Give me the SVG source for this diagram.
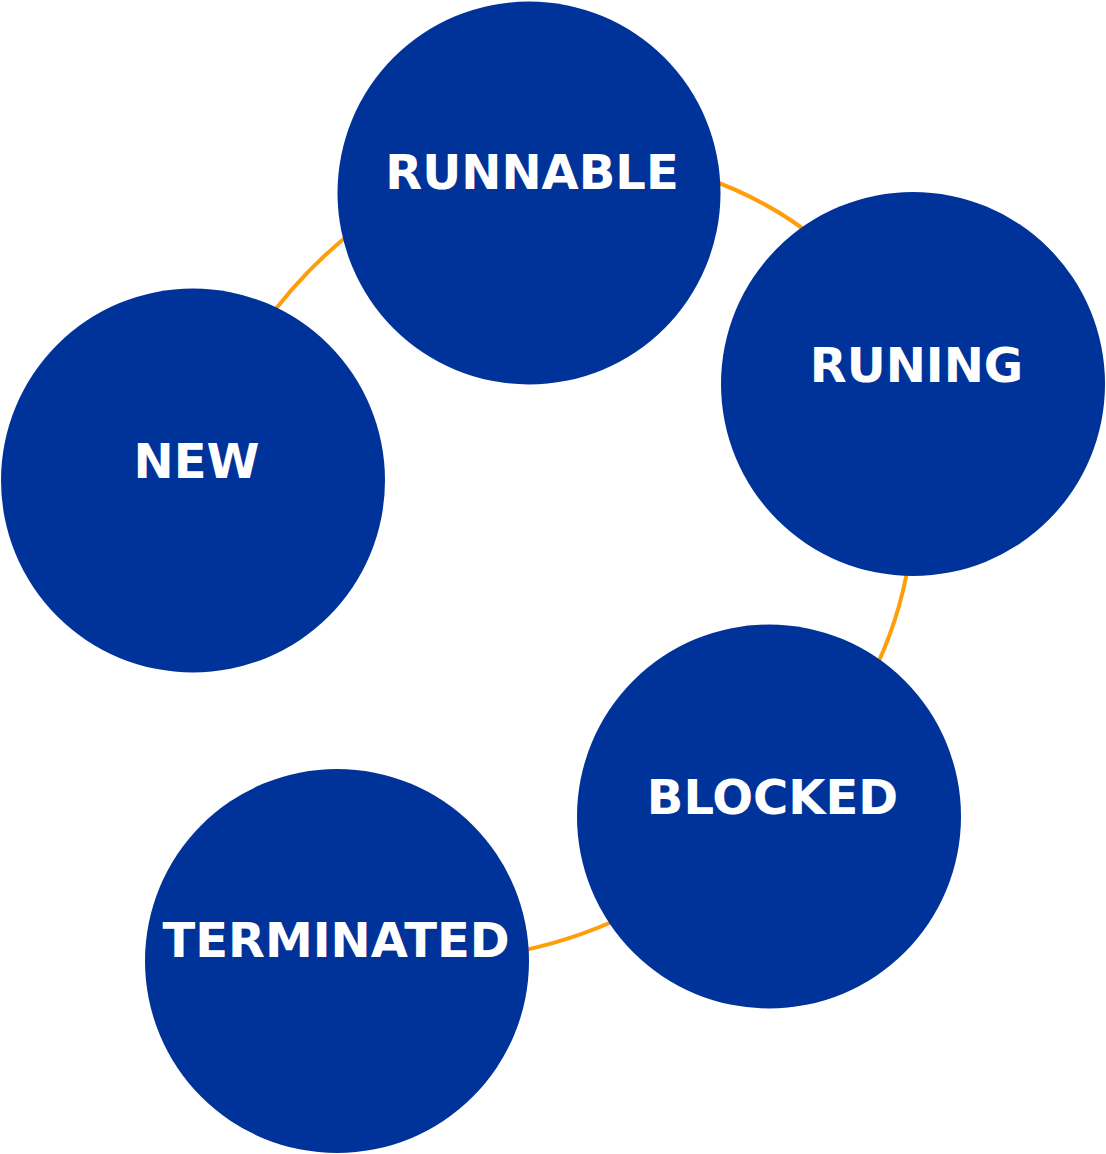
<svg xmlns="http://www.w3.org/2000/svg" width="1106" height="1154" viewBox="0 0 1106 1154">
<style>
.link{fill:none;stroke:#FF9E0B;stroke-width:4;stroke-linecap:round}
.node circle{fill:#003399}
.node text{fill:#FFFFFF;font-family:"DejaVu Sans","Verdana",sans-serif;font-weight:bold;font-size:48px;text-anchor:middle}
</style>
<rect width="1106" height="1154" fill="#FFFFFF"/>
<g id="connectors">
<path class="link" d="M260,330 Q304,268 360,226"/>
<path class="link" d="M700,176 Q770,200 820,242"/>
<path class="link" d="M909,560 Q900,620 870,680"/>
<path class="link" d="M510,953 Q570,942 625,916"/>
</g>
<g id="node-runnable" class="node"><circle cx="529" cy="193" r="191.5"/><text x="532" y="189">RUNNABLE</text></g>
<g id="node-runing" class="node"><circle cx="913" cy="384" r="192"/><text x="916.5" y="382">RUNING</text></g>
<g id="node-new" class="node"><circle cx="193" cy="480.5" r="192"/><text x="196.5" y="478">NEW</text></g>
<g id="node-blocked" class="node"><circle cx="769" cy="816.5" r="192"/><text x="772.5" y="814">BLOCKED</text></g>
<g id="node-terminated" class="node"><circle cx="337" cy="961" r="192"/><text x="336" y="957">TERMINATED</text></g>
</svg>
